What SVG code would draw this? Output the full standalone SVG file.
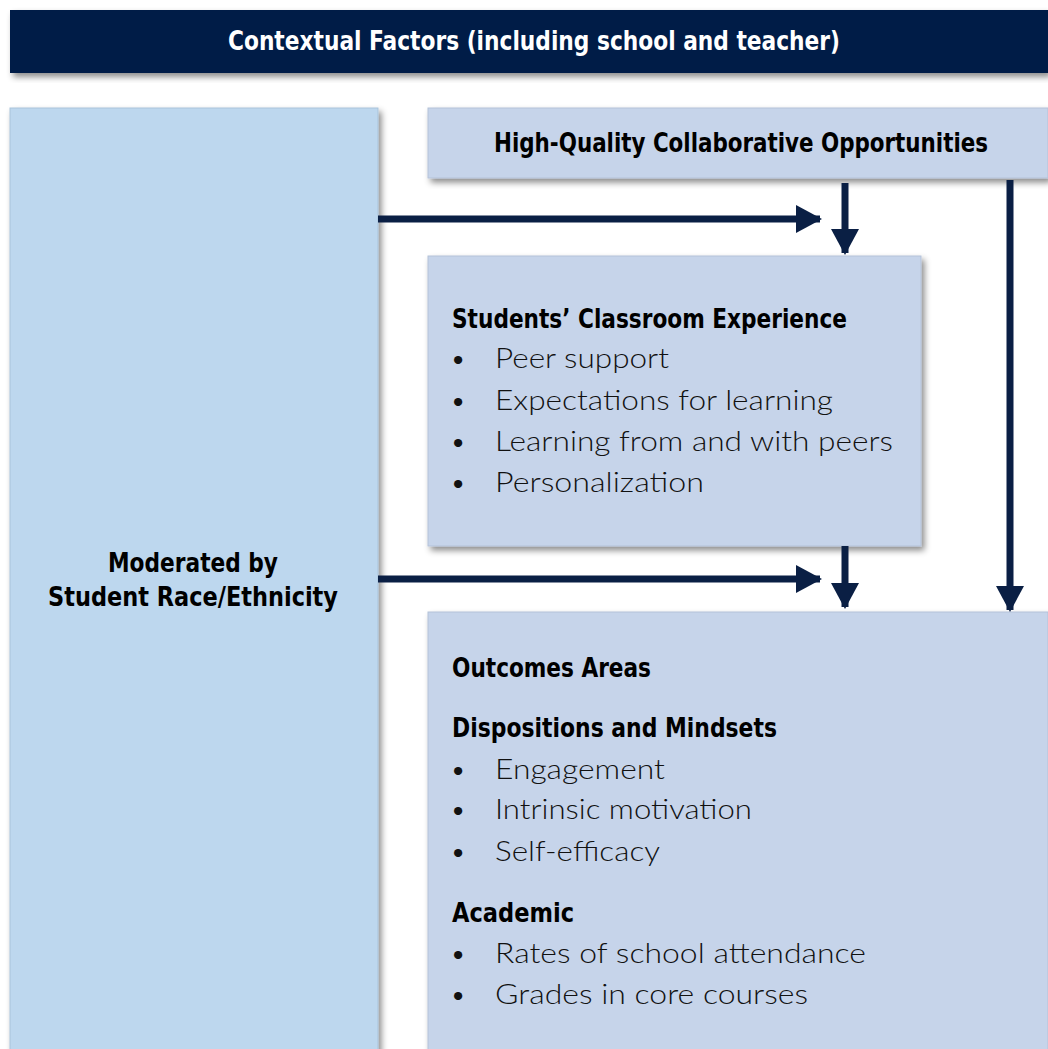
<svg xmlns="http://www.w3.org/2000/svg" width="1048" height="1049" viewBox="0 0 1048 1049">
<defs>
<filter id="sh" x="-5%" y="-5%" width="115%" height="120%">
<feDropShadow dx="3" dy="4" stdDeviation="3" flood-color="#000" flood-opacity="0.45"/>
</filter>
<marker id="ah" markerUnits="userSpaceOnUse" markerWidth="26" markerHeight="28" refX="24" refY="14" orient="auto">
<path d="M0,0 L26,14 L0,28 Z" fill="#0a1f44"/>
</marker>
<style>
.t{font-family:'Liberation Sans Narrow','DejaVu Sans Condensed','Liberation Sans',sans-serif;font-weight:bold;font-stretch:condensed;fill:#000}
.b{font-family:'Lato','Open Sans','Liberation Sans',sans-serif;font-weight:300;font-size:28px;fill:#111}
.box{fill:#c6d4ea;stroke:#b4c2d8;stroke-width:1}
.con{stroke:#0a1f44;stroke-width:7;fill:none}
</style>
</defs>
<g id="header">
<rect x="10" y="10" width="1038" height="63" fill="#061f46" filter="url(#sh)"/>
<text class="t" x="534" y="50" font-size="27" text-anchor="middle" style="fill:#fff" textLength="612" lengthAdjust="spacingAndGlyphs">Contextual Factors (including school and teacher)</text>
</g>
<g id="moderated">
<rect x="10" y="108" width="368" height="960" fill="#bdd7ee" stroke="#a9c3da" stroke-width="1" filter="url(#sh)"/>
<text class="t" x="193" y="572" font-size="26" text-anchor="middle" textLength="170" lengthAdjust="spacingAndGlyphs">Moderated by</text>
<text class="t" x="193" y="606" font-size="26" text-anchor="middle" textLength="290" lengthAdjust="spacingAndGlyphs">Student Race/Ethnicity</text>
</g>
<g id="hqco">
<rect class="box" x="428" y="108" width="620" height="70" filter="url(#sh)"/>
<text class="t" x="494" y="152" font-size="27" textLength="494" lengthAdjust="spacingAndGlyphs">High-Quality Collaborative Opportunities</text>
</g>
<g id="classroom">
<rect class="box" x="428" y="256" width="493" height="290" filter="url(#sh)"/>
<text class="t" x="452" y="328" font-size="27" textLength="395" lengthAdjust="spacingAndGlyphs">Students’ Classroom Experience</text>
<g class="b">
<text x="450" y="368">•</text><text x="495" y="368" textLength="174" lengthAdjust="spacingAndGlyphs">Peer support</text>
<text x="450" y="410">•</text><text x="495" y="410" textLength="338" lengthAdjust="spacingAndGlyphs">Expectations for learning</text>
<text x="450" y="451">•</text><text x="495" y="451" textLength="398" lengthAdjust="spacingAndGlyphs">Learning from and with peers</text>
<text x="450" y="492">•</text><text x="495" y="492" textLength="209" lengthAdjust="spacingAndGlyphs">Personalization</text>
</g>
</g>
<g id="outcomes">
<rect class="box" x="428" y="612" width="620" height="460" filter="url(#sh)"/>
<text class="t" x="452" y="677" font-size="27" textLength="199" lengthAdjust="spacingAndGlyphs">Outcomes Areas</text>
<text class="t" x="452" y="737" font-size="27" textLength="325" lengthAdjust="spacingAndGlyphs">Dispositions and Mindsets</text>
<g class="b">
<text x="450" y="779">•</text><text x="495" y="779" textLength="170" lengthAdjust="spacingAndGlyphs">Engagement</text>
<text x="450" y="819">•</text><text x="495" y="819" textLength="257" lengthAdjust="spacingAndGlyphs">Intrinsic motivation</text>
<text x="450" y="861">•</text><text x="495" y="861" textLength="165" lengthAdjust="spacingAndGlyphs">Self-efficacy</text>
</g>
<text class="t" x="452" y="922" font-size="27" textLength="122" lengthAdjust="spacingAndGlyphs">Academic</text>
<g class="b">
<text x="450" y="963">•</text><text x="495" y="963" textLength="371" lengthAdjust="spacingAndGlyphs">Rates of school attendance</text>
<text x="450" y="1004">•</text><text x="495" y="1004" textLength="313" lengthAdjust="spacingAndGlyphs">Grades in core courses</text>
</g>
</g>
<g id="connectors">
<line class="con" x1="378" y1="219" x2="820" y2="219" marker-end="url(#ah)"/>
<line class="con" x1="845" y1="183" x2="845" y2="253" marker-end="url(#ah)"/>
<line class="con" x1="1010" y1="180" x2="1010" y2="610" marker-end="url(#ah)"/>
<line class="con" x1="378" y1="579" x2="820" y2="579" marker-end="url(#ah)"/>
<line class="con" x1="845" y1="546" x2="845" y2="607" marker-end="url(#ah)"/>
</g>
</svg>
